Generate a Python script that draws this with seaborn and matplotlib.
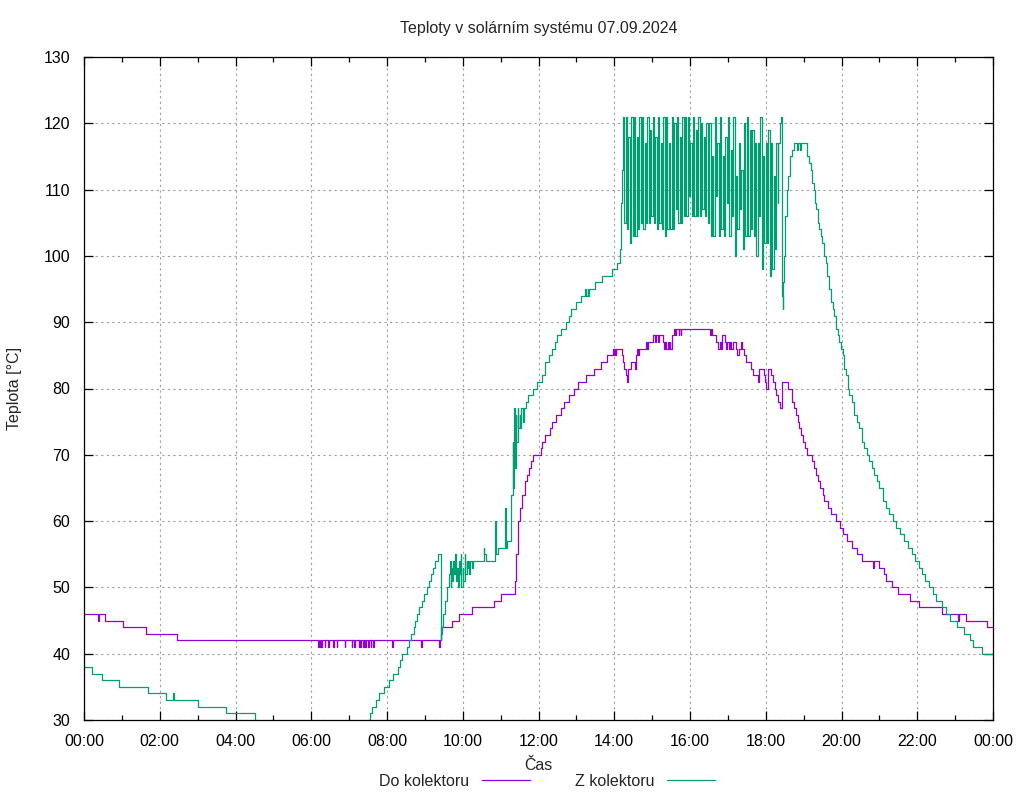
import numpy as np
import pandas as pd
import matplotlib
matplotlib.use("Agg")
import matplotlib.pyplot as plt
import matplotlib.dates as mdates
from matplotlib.lines import Line2D
import seaborn as sns

DEN = "2024-09-07"

# --- Do kolektoru (body zlomu, hodnota plati az do dalsiho bodu) ---
do_cas = [
    "00:00", "00:22", "00:24", "00:34", "01:02", "01:39", "02:27",
    "06:11", "06:13", "06:14", "06:15", "06:16", "06:17", "06:21", "06:22", "06:27", "06:28", "06:35", "06:36",
    "06:40", "06:41", "06:53", "06:54", "07:04", "07:05", "07:08", "07:09", "07:15", "07:16", "07:18", "07:19",
    "07:22", "07:23", "07:25", "07:26", "07:30", "07:31", "07:34", "07:35", "07:38", "07:39", "08:08", "08:09",
    "08:54", "08:55", "09:23", "09:24", "09:25", "09:26", "09:43", "09:54", "10:14", "10:50", "11:00", "11:23",
    "11:25", "11:27", "11:28", "11:30", "11:34", "11:39", "11:42", "11:45", "11:48", "11:52", "12:04", "12:06",
    "12:11", "12:18", "12:21", "12:27", "12:36", "12:41", "12:49", "12:56", "13:03", "13:16", "13:28", "13:39",
    "13:48", "13:58", "13:59", "14:01", "14:02", "14:03", "14:12", "14:14", "14:16", "14:18", "14:20", "14:22",
    "14:26", "14:33", "14:34", "14:36", "14:38", "14:39", "14:50", "14:52", "14:53", "15:02", "15:05", "15:06",
    "15:10", "15:11", "15:17", "15:19", "15:21", "15:22", "15:25", "15:26", "15:28", "15:29", "15:31", "15:35",
    "15:37", "15:38", "15:42", "15:43", "15:45", "15:46", "16:32", "16:33", "16:35", "16:41", "16:44", "16:47",
    "16:49", "16:50", "16:55", "16:57", "16:59", "17:01", "17:03", "17:05", "17:08", "17:13", "17:15", "17:17",
    "17:21", "17:23", "17:26", "17:29", "17:37", "17:40", "17:48", "17:49", "17:57", "17:59", "18:01", "18:04",
    "18:08", "18:11", "18:14", "18:17", "18:20", "18:23", "18:26", "18:36", "18:42", "18:45", "18:48", "18:51",
    "18:53", "18:56", "18:59", "19:02", "19:05", "19:14", "19:17", "19:20", "19:23", "19:26", "19:30", "19:32",
    "19:38", "19:44", "19:52", "19:58", "20:02", "20:08", "20:17", "20:24", "20:32", "20:50", "20:51", "21:00",
    "21:08", "21:11", "21:20", "21:29", "21:48", "22:03", "22:39", "23:05", "23:06", "23:17", "23:51", "24:00",
]
do_tep = [
    46, 45, 46, 45, 44, 43, 42,
    41, 42, 41, 42, 41, 42, 41, 42, 41, 42, 41, 42,
    41, 42, 41, 42, 41, 42, 41, 42, 41, 42, 41, 42,
    41, 42, 41, 42, 41, 42, 41, 42, 41, 42, 41, 42,
    41, 42, 41, 42, 43, 44, 45, 46, 47, 48, 49, 51,
    55, 58, 60, 62, 64, 66, 67, 68, 69, 70, 71, 72,
    73, 74, 75, 76, 77, 78, 79, 80, 81, 82, 83, 84,
    85, 86, 85, 86, 85, 86, 85, 84, 83, 82, 81, 83,
    84, 83, 85, 86, 85, 86, 87, 86, 87, 88, 87, 88,
    87, 88, 87, 86, 87, 86, 87, 86, 87, 86, 88, 89,
    88, 89, 88, 89, 88, 89, 88, 89, 88, 87, 86, 87,
    86, 88, 87, 86, 87, 86, 87, 86, 87, 86, 85, 86,
    87, 86, 85, 84, 83, 82, 81, 83, 82, 81, 80, 83,
    82, 81, 80, 79, 78, 77, 81, 80, 78, 77, 76, 75,
    74, 73, 72, 71, 70, 69, 68, 67, 66, 65, 64, 63,
    62, 61, 60, 59, 58, 57, 56, 55, 54, 53, 54, 53,
    52, 51, 50, 49, 48, 47, 46, 45, 46, 45, 44, 44,
]

# --- Z kolektoru: rano a dopoledne ---
z_cas_rano = [
    "00:00", "00:13", "00:29", "00:55", "01:41", "02:10", "02:21", "02:22", "03:01", "03:45", "04:31", "04:33",
    "07:30", "07:33", "07:37", "07:42", "07:48", "07:55", "08:03", "08:09", "08:17", "08:20", "08:24", "08:32",
    "08:35", "08:38", "08:42", "08:44", "08:48", "08:51", "08:56", "08:59", "09:03", "09:07", "09:10", "09:13",
    "09:16", "09:20", "09:25", "09:26", "09:27", "09:28", "09:32", "09:35", "09:38", "09:40", "09:41", "09:42",
    "09:43", "09:45", "09:46", "09:48", "09:49", "09:51", "09:52", "09:54", "09:55", "09:57", "09:58", "10:00",
    "10:01", "10:03", "10:04", "10:06", "10:07", "10:09", "10:10", "10:12", "10:14", "10:17", "10:33", "10:34",
    "10:37", "10:51", "10:52", "10:56", "11:07", "11:08", "11:10", "11:17", "11:19", "11:20", "11:21", "11:22",
    "11:24", "11:25", "11:27", "11:28", "11:30", "11:31", "11:33", "11:35", "11:37", "11:40", "11:44", "11:52",
    "11:58", "12:05", "12:11", "12:17", "12:22", "12:26", "12:30", "12:35", "12:43", "12:49", "12:51", "12:59",
    "13:07", "13:14", "13:15", "13:18", "13:19", "13:20", "13:30", "13:41", "13:56", "14:05", "14:09", "14:11",
    "14:13",
]
z_tep_rano = [
    38, 37, 36, 35, 34, 33, 34, 33, 32, 31, 30, 29,
    30, 31, 32, 33, 34, 35, 36, 37, 38, 39, 40, 41,
    42, 43, 44, 45, 46, 47, 48, 49, 50, 51, 52, 53,
    54, 55, 42, 43, 44, 46, 48, 50, 52, 54, 50, 53,
    51, 54, 52, 55, 51, 53, 50, 54, 52, 55, 50, 53,
    51, 55, 52, 54, 53, 54, 52, 54, 53, 54, 56, 55,
    54, 60, 55, 56, 62, 56, 57, 64, 72, 65, 77, 68,
    76, 72, 77, 74, 76, 74, 77, 75, 77, 78, 79, 80,
    81, 82, 84, 85, 86, 87, 88, 89, 90, 91, 92, 93,
    94, 95, 94, 95, 94, 95, 96, 97, 98, 99, 101, 108,
    113,
]

# --- Z kolektoru: kmitani (stridave vrchol / dno), 14:14 - 18:19 ---
z_kmit_od, z_kmit_do = "14:14", "18:19"
z_tep_kmit = [
    121, 105, 121, 104, 118, 102, 121, 103, 121, 103, 118, 104, 121, 105, 121, 104, 117, 105, 121, 105,
    119, 106, 121, 105, 118, 104, 121, 105, 117, 104, 121, 103, 121, 104, 117, 104, 121, 104, 120, 107,
    121, 105, 118, 105, 121, 106, 121, 106, 121, 109, 117, 106, 121, 106,
    119, 106, 121, 106, 120, 107, 118, 106, 120, 105, 120, 103, 115, 103, 121, 109, 117, 103, 121, 104,
    115, 103, 118, 108, 121, 103, 116, 106, 121, 100, 112, 104, 117, 107, 113, 101, 120, 103, 121, 103,
    119, 104, 119, 103, 117, 100, 117, 106, 121, 98, 115, 102, 117, 102, 119, 97, 117, 98, 112, 101,
    117, 108,
]

# --- Z kolektoru: vecer ---
z_cas_vecer = [
    "18:20", "18:22", "18:23", "18:24", "18:26", "18:27", "18:28", "18:29", "18:30", "18:33", "18:36", "18:39",
    "18:41", "18:44", "18:50", "18:51", "18:55", "18:56", "19:05", "19:08", "19:11", "19:13", "19:16", "19:18",
    "19:20", "19:22", "19:24", "19:27", "19:29", "19:32", "19:35", "19:37", "19:40", "19:43", "19:46", "19:48",
    "19:51", "19:54", "19:56", "19:59", "20:02", "20:04", "20:07", "20:10", "20:12", "20:16", "20:20", "20:24",
    "20:28", "20:32", "20:36", "20:40", "20:44", "20:48", "20:52", "20:56", "21:00", "21:06", "21:11", "21:16",
    "21:22", "21:27", "21:32", "21:39", "21:46", "21:52", "21:57", "22:03", "22:07", "22:12", "22:18", "22:25",
    "22:30", "22:39", "22:45", "22:52", "23:03", "23:14", "23:24", "23:29", "23:43", "24:00",
]
z_tep_vecer = [
    117, 119, 120, 121, 94, 92, 96, 100, 106, 110, 112, 115,
    116, 117, 116, 117, 116, 117, 115, 114, 113, 111, 110, 108,
    107, 105, 104, 103, 102, 100, 99, 97, 95, 93, 92, 91,
    89, 88, 87, 86, 85, 83, 82, 80, 79, 78, 76, 75,
    74, 72, 71, 70, 69, 68, 67, 66, 65, 63, 62, 61,
    60, 59, 58, 57, 56, 55, 54, 53, 52, 51, 50, 49,
    48, 47, 46, 45, 44, 43, 42, 41, 40, 40,
]

serie = ["Do kolektoru", "Z kolektoru"]
barvy = {"Do kolektoru": "#9400d3", "Z kolektoru": "#009e73"}

zacatek = pd.Timestamp(DEN)


def casy(seznam):
    return zacatek + pd.to_timedelta([c + ":00" for c in seznam])


kmit_cas = pd.date_range(zacatek + pd.to_timedelta(z_kmit_od + ":00"),
                         zacatek + pd.to_timedelta(z_kmit_do + ":00"),
                         periods=len(z_tep_kmit))

do_df = pd.DataFrame({"cas": casy(do_cas), "teplota": do_tep, "serie": serie[0]})
z_df = pd.DataFrame({
    "cas": list(casy(z_cas_rano)) + list(kmit_cas) + list(casy(z_cas_vecer)),
    "teplota": z_tep_rano + z_tep_kmit + z_tep_vecer,
    "serie": serie[1],
})
df = pd.concat([do_df, z_df], ignore_index=True)

sns.set_theme(style="ticks")
plt.rcParams["font.family"] = ["Liberation Sans", "DejaVu Sans"]
plt.rcParams["font.size"] = 11.5

fig = plt.figure(figsize=(10.24, 8), dpi=100)
ax = fig.add_axes([84 / 1024, 80 / 800, 909 / 1024, 663 / 800])

sns.lineplot(data=df, x="cas", y="teplota", hue="serie", hue_order=serie,
             palette=barvy, estimator=None, sort=False, drawstyle="steps-post",
             linewidth=0.9, legend=False, ax=ax)

ax.set_xlim(zacatek, zacatek + pd.Timedelta(days=1))
ax.set_ylim(30, 130)
ax.set_yticks(range(30, 131, 10))
ax.xaxis.set_major_locator(mdates.HourLocator(byhour=range(0, 24, 2)))
ax.xaxis.set_minor_locator(mdates.HourLocator(byhour=range(1, 24, 2)))
ax.xaxis.set_major_formatter(mdates.DateFormatter("%H:%M"))

ax.tick_params(which="both", direction="in", top=True, right=True,
               color="black", width=0.9, labelsize=11.5, labelcolor="black")
ax.tick_params(which="major", length=6.5, pad=10)
ax.tick_params(which="minor", length=3.5)
for s in ax.spines.values():
    s.set_color("black")
    s.set_linewidth(0.9)

ax.grid(True, which="major", color="#a0a0a0", linestyle=(0, (2, 3)), linewidth=0.8)
ax.set_axisbelow(True)
ax.set_xlabel("")
ax.set_ylabel("")

fig.text(538.5 / 1024, 1 - 28 / 800, "Teploty v solárním systému 07.09.2024",
         ha="center", va="center", fontsize=11.5)
fig.text(15 / 1024, 1 - 388 / 800, "Teplota [°C]", rotation=90,
         ha="center", va="center", fontsize=11.5)
fig.text(538.5 / 1024, 1 - 765 / 800, "Čas", ha="center", va="center", fontsize=11.5)

handles = [Line2D([], [], color=barvy[s], linewidth=0.9) for s in serie]
fig.legend(handles, serie, loc="center", bbox_to_anchor=(547 / 1024, 1 - 781 / 800),
           ncol=2, frameon=False, markerfirst=False, handlelength=3.0,
           handletextpad=0.8, columnspacing=2.8, fontsize=11.5)

fig.savefig("out.png", dpi=100)
